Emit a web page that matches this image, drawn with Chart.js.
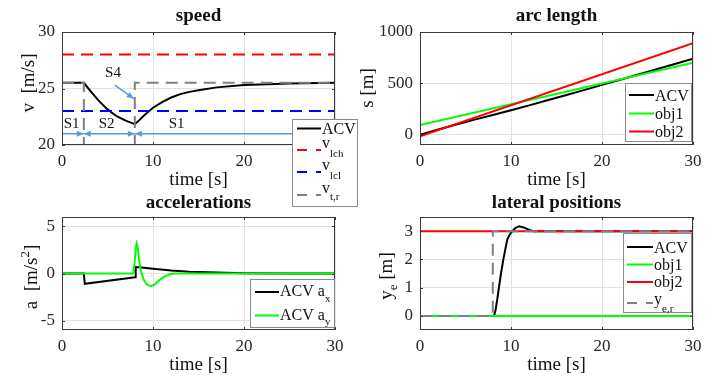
<!DOCTYPE html>
<html><head><meta charset="utf-8">
<script src="https://cdn.jsdelivr.net/npm/chart.js@4.4.1/dist/chart.umd.min.js"></script>
<style>
html,body{margin:0;padding:0;background:#fff;}
#wrap{position:relative;width:713px;height:378px;overflow:hidden;background:#fff;}
canvas{position:absolute;left:0;top:0;}
</style></head><body><div id="wrap">
<canvas id="cAcc" width="713" height="378"></canvas>
<canvas id="cLat" width="713" height="378"></canvas>
<canvas id="cArc" width="713" height="378"></canvas>
<canvas id="cSpeed" width="713" height="378"></canvas>
</div>
<script>
// ---------------- data ----------------
const xTicks = [0, 10, 20, 30];

// speed
const tSpeed = [0, 2.4, 3, 4, 5, 6, 7, 8, 8.5, 9, 10, 11, 12, 13, 14, 15, 17, 20, 25, 30];
const vACV   = [25.5, 25.5, 24.9, 23.95, 23.15, 22.55, 22.15, 21.85, 22.2, 22.6, 23.3, 23.8, 24.2, 24.5, 24.7, 24.85, 25.1, 25.3, 25.45, 25.5];
const tLim   = [0, 30];
const vLch   = [28, 28];
const vLcl   = [23, 23];
const tVref  = [0, 2.4, 2.4, 8, 8, 30];
const vRef   = [25.5, 25.5, 20, 20, 25.5, 25.5];
const speedTicks = [20, 25, 30];
const arrowSegs = [[0, 2.4, 21, 'end'], [2.4, 8, 21, 'both'], [28, 8, 21, 'end']];
const s4Arrow = [5.8, 25.3, 7.9, 24.1];
const sLabels = [['S1', 1.06, 21.5], ['S2', 4.9, 21.5], ['S1', 12.6, 21.5], ['S4', 5.6, 26.05]];

// arc length
const tArc  = [0, 2, 4, 6, 8, 10, 12, 14, 16, 18, 20, 22, 24, 26, 28, 30];
const sACV  = [0, 51, 100, 147, 192, 238, 286, 335, 384, 434, 485, 536, 587, 638, 689, 740];
const tObj  = [0, 30];
const sObj1 = [95, 700];
const sObj2 = [-15, 890];
const arcTicks = [0, 500, 1000];

// accelerations
const tAx = [0, 2.4, 2.5, 8.05, 8.1, 9, 10, 12, 14, 16, 18, 20, 25, 30];
const aX  = [0, 0, -1.1, -0.39, 0.68, 0.6, 0.5, 0.32, 0.19, 0.12, 0.07, 0.03, 0.01, 0];
const tAy = [0, 7.85, 8.0, 8.1, 8.2, 8.3, 8.45, 8.6, 8.75, 9.0, 9.3, 9.75, 10.2, 10.7, 11.3, 11.9, 12.5, 30];
const aY  = [0, 0, 1.4, 2.6, 3.2, 2.9, 1.6, 0.6, 0, -0.7, -1.15, -1.35, -1.15, -0.7, -0.3, -0.05, 0, 0];
const accTicks = [-5, 0, 5];

// lateral positions
const tLat  = [0, 8.13, 8.3, 8.5, 8.7, 8.9, 9.16, 9.4, 9.6, 9.9, 10.15, 10.5, 10.9, 11.4, 12, 12.5, 30];
const yACV  = [0, 0, 0.2, 0.6, 1.06, 1.5, 2.0, 2.4, 2.71, 2.9, 3.0, 3.12, 3.17, 3.13, 3.04, 3.0, 3.0];
const yObj1 = [0, 0];
const yObj2 = [3, 3];
const tYref = [0, 8.0, 8.0, 30];
const yRef  = [0, 0, 3, 3];
const latTicks = [0, 1, 2, 3];

// ---------------- helpers ----------------
const SERIF = '"Liberation Serif", "Times New Roman", serif';
const RED = '#ff0000', BLUE = '#0000ff', GREEN = '#00ff00', GRAY = '#808080', BLACK = '#000000';
const DASH = [12, 7];

function pts(xs, ys) { return xs.map((x, i) => ({x: x, y: ys[i]})); }
function ds(data, color, dashed, order) {
  return {data: data, borderColor: color, borderWidth: 2, borderDash: dashed ? DASH : [],
    pointRadius: 0, tension: 0, fill: false, order: order, borderCapStyle: 'butt', borderJoinStyle: 'miter'};
}
function drawParts(ctx, x, y, parts, align) {
  let total = 0;
  parts.forEach(p => { ctx.font = (p.bold ? 'bold ' : '') + (p.s || 16) + 'px ' + SERIF; p.w = ctx.measureText(p.t).width; total += p.w; });
  let cx = align === 'center' ? x - total / 2 : x;
  ctx.textAlign = 'left'; ctx.textBaseline = 'alphabetic';
  parts.forEach(p => { ctx.font = (p.bold ? 'bold ' : '') + (p.s || 16) + 'px ' + SERIF; ctx.fillText(p.t, cx, y + (p.dy || 0)); cx += p.w; });
}

function makeDecor(d) {
  return {
    id: 'decor',
    afterDatasetsDraw(chart) {
      const ctx = chart.ctx, a = chart.chartArea, xs = chart.scales.x, ys = chart.scales.y;
      ctx.save();
      if (d.annot) d.annot(chart, ctx);
      // box
      ctx.setLineDash([]);
      ctx.strokeStyle = '#3a3a3a'; ctx.lineWidth = 1;
      ctx.strokeRect(a.left + 0.5, a.top + 0.5, a.right - a.left - 1, a.bottom - a.top - 1);
      // inner tick marks
      ctx.beginPath();
      xs.ticks.forEach(t => { const p = Math.round(xs.getPixelForValue(t.value)) + 0.5;
        ctx.moveTo(p, a.bottom); ctx.lineTo(p, a.bottom - 3); ctx.moveTo(p, a.top); ctx.lineTo(p, a.top + 3); });
      ys.ticks.forEach(t => { const p = Math.round(ys.getPixelForValue(t.value)) + 0.5;
        ctx.moveTo(a.left, p); ctx.lineTo(a.left + 3, p); ctx.moveTo(a.right, p); ctx.lineTo(a.right - 3, p); });
      ctx.stroke();
      ctx.fillStyle = '#111';
      // title
      const cxm = (a.left + a.right) / 2;
      drawParts(ctx, cxm, d.titleY, [{t: d.title, s: 19, bold: true}], 'center');
      // x label
      drawParts(ctx, cxm, d.xlabelY, [{t: 'time [s]', s: 19}], 'center');
      // y label (rotated)
      ctx.save();
      ctx.translate(d.ylab.x, d.ylab.y); ctx.rotate(-Math.PI / 2);
      drawParts(ctx, 0, 0, d.ylab.parts, 'center');
      ctx.restore();
      // legend
      const L = d.legend;
      ctx.fillStyle = '#ffffff';
      ctx.fillRect(L.box[0], L.box[1], L.box[2] - L.box[0], L.box[3] - L.box[1]);
      ctx.strokeStyle = '#8a8a8a'; ctx.lineWidth = 1;
      ctx.strokeRect(L.box[0] + 0.5, L.box[1] + 0.5, L.box[2] - L.box[0] - 1, L.box[3] - L.box[1] - 1);
      L.items.forEach(it => {
        ctx.strokeStyle = it.color; ctx.lineWidth = 2;
        ctx.setLineDash(it.dashed ? [10, 9] : []);
        ctx.beginPath(); ctx.moveTo(L.sx0, it.y); ctx.lineTo(L.sx1, it.y); ctx.stroke();
        ctx.setLineDash([]);
        ctx.fillStyle = '#111';
        drawParts(ctx, L.tx, it.y, it.parts, 'left');
      });
      ctx.restore();
    }
  };
}

function makeChart(id, area, datasets, yMin, yMax, yTicks, deco) {
  const yW = 50, xH = 40;
  const tickFont = {family: SERIF, size: 17};
  return new Chart(document.getElementById(id), {
    type: 'line',
    data: {datasets: datasets},
    options: {
      responsive: false, animation: false, events: [],
      layout: {padding: {left: area.l - yW, right: 713 - area.r, top: area.t, bottom: 378 - area.b - xH}},
      scales: {
        x: {type: 'linear', min: 0, max: 30,
          afterBuildTicks: s => { s.ticks = xTicks.map(v => ({value: v})); },
          afterFit: s => { s.height = xH; },
          grid: {color: '#e2e2e2', drawTicks: false}, border: {display: false},
          ticks: {font: tickFont, color: '#262626', padding: 6, maxRotation: 0, autoSkip: false, callback: v => String(v)}},
        y: {type: 'linear', min: yMin, max: yMax,
          afterBuildTicks: s => { s.ticks = yTicks.map(v => ({value: v})); },
          afterFit: s => { s.width = yW; },
          grid: {color: '#e2e2e2', drawTicks: false}, border: {display: false},
          ticks: {font: tickFont, color: '#262626', padding: 7, autoSkip: false, callback: v => String(v)}}
      },
      plugins: {legend: {display: false}, tooltip: {enabled: false}}
    },
    plugins: [makeDecor(deco)]
  });
}

function arrowHead(ctx, x0, y0, x1, y1) {
  const ang = Math.atan2(y1 - y0, x1 - x0), len = 7, half = 3;
  ctx.beginPath();
  ctx.moveTo(x1, y1);
  ctx.lineTo(x1 - len * Math.cos(ang) + half * Math.sin(ang), y1 - len * Math.sin(ang) - half * Math.cos(ang));
  ctx.lineTo(x1 - len * Math.cos(ang) - half * Math.sin(ang), y1 - len * Math.sin(ang) + half * Math.cos(ang));
  ctx.closePath(); ctx.fill();
}

// ---------------- charts ----------------
makeChart('cSpeed', {l: 62, r: 335, t: 32, b: 145}, [
  ds(pts(tSpeed, vACV), BLACK, false, 4),
  ds(pts(tLim, vLch), RED, true, 3),
  ds(pts(tLim, vLcl), BLUE, true, 2),
  ds(pts(tVref, vRef), GRAY, true, 1)
], 20, 30, speedTicks, {
  title: 'speed', titleY: 21, xlabelY: 185,
  ylab: {x: 34, y: 83, parts: [{t: 'v  [m/s]', s: 19}]},
  annot: (chart, ctx) => {
    const xs = chart.scales.x, ys = chart.scales.y;
    ctx.strokeStyle = '#5b9bd5'; ctx.fillStyle = '#5b9bd5'; ctx.lineWidth = 1.5; ctx.setLineDash([]);
    arrowSegs.forEach(sg => {
      const x0 = xs.getPixelForValue(sg[0]), x1 = xs.getPixelForValue(sg[1]), y = ys.getPixelForValue(sg[2]);
      ctx.beginPath(); ctx.moveTo(x0, y); ctx.lineTo(x1, y); ctx.stroke();
      arrowHead(ctx, x0, y, x1, y);
      if (sg[3] === 'both') arrowHead(ctx, x1, y, x0, y);
    });
    const ax0 = xs.getPixelForValue(s4Arrow[0]), ay0 = ys.getPixelForValue(s4Arrow[1]);
    const ax1 = xs.getPixelForValue(s4Arrow[2]), ay1 = ys.getPixelForValue(s4Arrow[3]);
    ctx.beginPath(); ctx.moveTo(ax0, ay0); ctx.lineTo(ax1, ay1); ctx.stroke();
    arrowHead(ctx, ax0, ay0, ax1, ay1);
    ctx.fillStyle = '#111';
    sLabels.forEach(l => drawParts(ctx, xs.getPixelForValue(l[1]), ys.getPixelForValue(l[2]), [{t: l[0], s: 15}], 'center'));
  },
  legend: {box: [292, 119, 358, 207], sx0: 297, sx1: 321, tx: 322, items: [
    {y: 128.5, color: BLACK, dashed: false, parts: [{t: 'ACV', dy: 5.5}]},
    {y: 150, color: RED, dashed: true, parts: [{t: 'v', dy: -2}, {t: 'lch', s: 11, dy: 6.5}]},
    {y: 172, color: BLUE, dashed: true, parts: [{t: 'v', dy: -2}, {t: 'lcl', s: 11, dy: 6.5}]},
    {y: 195, color: GRAY, dashed: true, parts: [{t: 'v', dy: -2}, {t: 't,r', s: 11, dy: 5}]}
  ]}
});

makeChart('cArc', {l: 420, r: 693, t: 32, b: 145}, [
  ds(pts(tArc, sACV), BLACK, false, 3),
  ds(pts(tObj, sObj1), GREEN, false, 2),
  ds(pts(tObj, sObj2), RED, false, 1)
], -100, 1000, arcTicks, {
  title: 'arc length', titleY: 21, xlabelY: 185,
  ylab: {x: 373, y: 88, parts: [{t: 's [m]', s: 19}]},
  legend: {box: [625, 83, 692, 142], sx0: 629, sx1: 654, tx: 655, items: [
    {y: 95, color: BLACK, parts: [{t: 'ACV', dy: 5.5}]},
    {y: 113.5, color: GREEN, parts: [{t: 'obj1', dy: 5}]},
    {y: 131.5, color: RED, parts: [{t: 'obj2', dy: 5}]}
  ]}
});

makeChart('cAcc', {l: 62, r: 335, t: 217, b: 330}, [
  ds(pts(tAx, aX), BLACK, false, 2),
  ds(pts(tAy, aY), GREEN, false, 1)
], -6, 6, accTicks, {
  title: 'accelerations', titleY: 208, xlabelY: 370,
  ylab: {x: 37, y: 277, parts: [{t: 'a  [m/s', s: 19}, {t: '2', s: 13, dy: -8}, {t: ']', s: 19}]},
  legend: {box: [250, 279, 335, 328], sx0: 255, sx1: 279, tx: 280, items: [
    {y: 292, color: BLACK, parts: [{t: 'ACV a', dy: 4}, {t: 'x', s: 11, dy: 10}]},
    {y: 315.5, color: GREEN, parts: [{t: 'ACV a', dy: 4}, {t: 'y', s: 11, dy: 9}]}
  ]}
});

makeChart('cLat', {l: 420, r: 693, t: 217, b: 330}, [
  ds(pts(tLat, yACV), BLACK, false, 4),
  ds(pts(tObj, yObj1), GREEN, false, 3),
  ds(pts(tObj, yObj2), RED, false, 2),
  ds(pts(tYref, yRef), GRAY, true, 1)
], -0.5, 3.5, latTicks, {
  title: 'lateral positions', titleY: 208, xlabelY: 370,
  ylab: {x: 392, y: 276, parts: [{t: 'y', s: 19}, {t: 'e', s: 13, dy: 5}, {t: ' [m]', s: 19}]},
  legend: {box: [623, 233, 692, 313], sx0: 627, sx1: 653, tx: 654, items: [
    {y: 247, color: BLACK, parts: [{t: 'ACV', dy: 5.5}]},
    {y: 264.5, color: GREEN, parts: [{t: 'obj1', dy: 5}]},
    {y: 282, color: RED, parts: [{t: 'obj2', dy: 5}]},
    {y: 303, color: GRAY, dashed: true, parts: [{t: 'y', dy: 1}, {t: 'e,r', s: 11, dy: 9}]}
  ]}
});
</script>
</body></html>
